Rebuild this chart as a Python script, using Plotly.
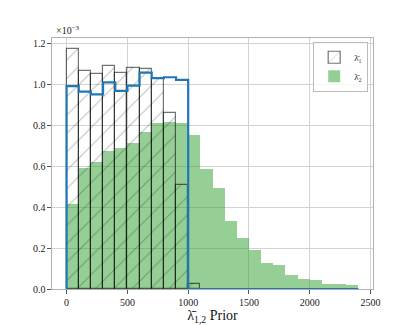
import plotly.graph_objects as go

# ---- data (densities, in units of 1e-3) ----
bin_width = 100
lam1_left = [0, 100, 200, 300, 400, 500, 600, 700, 800, 900, 1000]
lam1_vals = [1.172, 1.067, 1.054, 1.093, 1.057, 1.081, 1.078, 1.029, 0.863, 0.511, 0.023]

lam2_left = [0, 100, 200, 300, 400, 500, 600, 700, 800, 900, 1000, 1100,
             1200, 1300, 1400, 1500, 1600, 1700, 1800, 1900, 2000, 2100, 2200, 2300]
lam2_vals = [0.418, 0.590, 0.622, 0.675, 0.691, 0.716, 0.770, 0.810, 0.819, 0.814, 0.753, 0.585,
             0.493, 0.335, 0.250, 0.193, 0.127, 0.118, 0.067, 0.050, 0.044, 0.026, 0.023, 0.018]

step_left = [0, 100, 200, 300, 400, 500, 600, 700, 800, 900]
step_vals = [0.993, 0.966, 0.952, 1.011, 0.969, 0.995, 1.059, 1.032, 1.036, 1.023]
step_end = 2400

xticks = [0, 500, 1000, 1500, 2000, 2500]
yticks = [0.0, 0.2, 0.4, 0.6, 0.8, 1.0, 1.2]

serif = 'Liberation Serif, DejaVu Serif, serif'

fig = go.Figure()

# lambda_2 filled histogram
fig.add_trace(go.Bar(
    x=[l + bin_width / 2 for l in lam2_left], y=lam2_vals, width=bin_width,
    marker=dict(color='rgba(44,160,44,0.5)', line=dict(width=0)),
    name='λ̄₂', showlegend=True,
))

# lambda_1 hatched histogram
fig.add_trace(go.Bar(
    x=[l + bin_width / 2 for l in lam1_left], y=lam1_vals, width=bin_width,
    marker=dict(color='rgba(0,0,0,0)',
                line=dict(color='rgba(0,0,0,0.55)', width=1.2),
                pattern=dict(shape='/', fgcolor='rgba(0,0,0,0.5)', bgcolor='rgba(0,0,0,0)',
                             size=13, solidity=0.08)),
    name='λ̄₁', showlegend=True,
))

# step outline
sx = [step_left[0]] + step_left + [step_left[-1] + bin_width, step_end]
sy = [0] + step_vals + [0, 0]
fig.add_trace(go.Scatter(
    x=sx, y=sy, mode='lines', line=dict(color='#1f77b4', width=2.2, shape='hv'),
    showlegend=False,
))

axis_common = dict(
    showline=True, mirror=True, linecolor='#b0b0b0', linewidth=1.2,
    showgrid=True, gridcolor='#d3d3d3', gridwidth=1,
    ticks='outside', ticklen=3.5, tickcolor='#555555', tickwidth=1,
    zeroline=False, automargin=False,
    tickfont=dict(family=serif, size=10, color='#222222'),
)

fig.update_xaxes(range=[-120, 2520], tickvals=xticks, ticktext=[str(t) for t in xticks],
                 title=dict(text='λ̄<sub>1,2</sub> Prior', font=dict(family=serif, size=14, color='#111111'),
                            standoff=1),
                 **axis_common)
fig.update_yaxes(range=[0, 1.228], tickvals=yticks, ticktext=[f'{t:.1f}' for t in yticks],
                 **axis_common)

fig.add_annotation(x=0.005, y=1.0, xref='paper', yref='paper', xanchor='left', yanchor='bottom',
                   text='×10<sup>−3</sup>', showarrow=False,
                   font=dict(family=serif, size=10, color='#222222'))

fig.update_layout(
    width=415, height=325,
    margin=dict(l=52, r=42, t=38, b=36),
    paper_bgcolor='white', plot_bgcolor='white',
    barmode='overlay', bargap=0,
    font=dict(family=serif),
    legend=dict(x=0.985, y=0.985, xanchor='right', yanchor='top',
                bgcolor='rgba(255,255,255,0.8)', bordercolor='#bbbbbb', borderwidth=1,
                font=dict(family=serif, size=9, color='#222222'), traceorder='reversed',
                itemwidth=30, tracegroupgap=0),
)

fig.write_html('out.html', config={'displayModeBar': False},
               post_script="document.body.style.margin='0';")
